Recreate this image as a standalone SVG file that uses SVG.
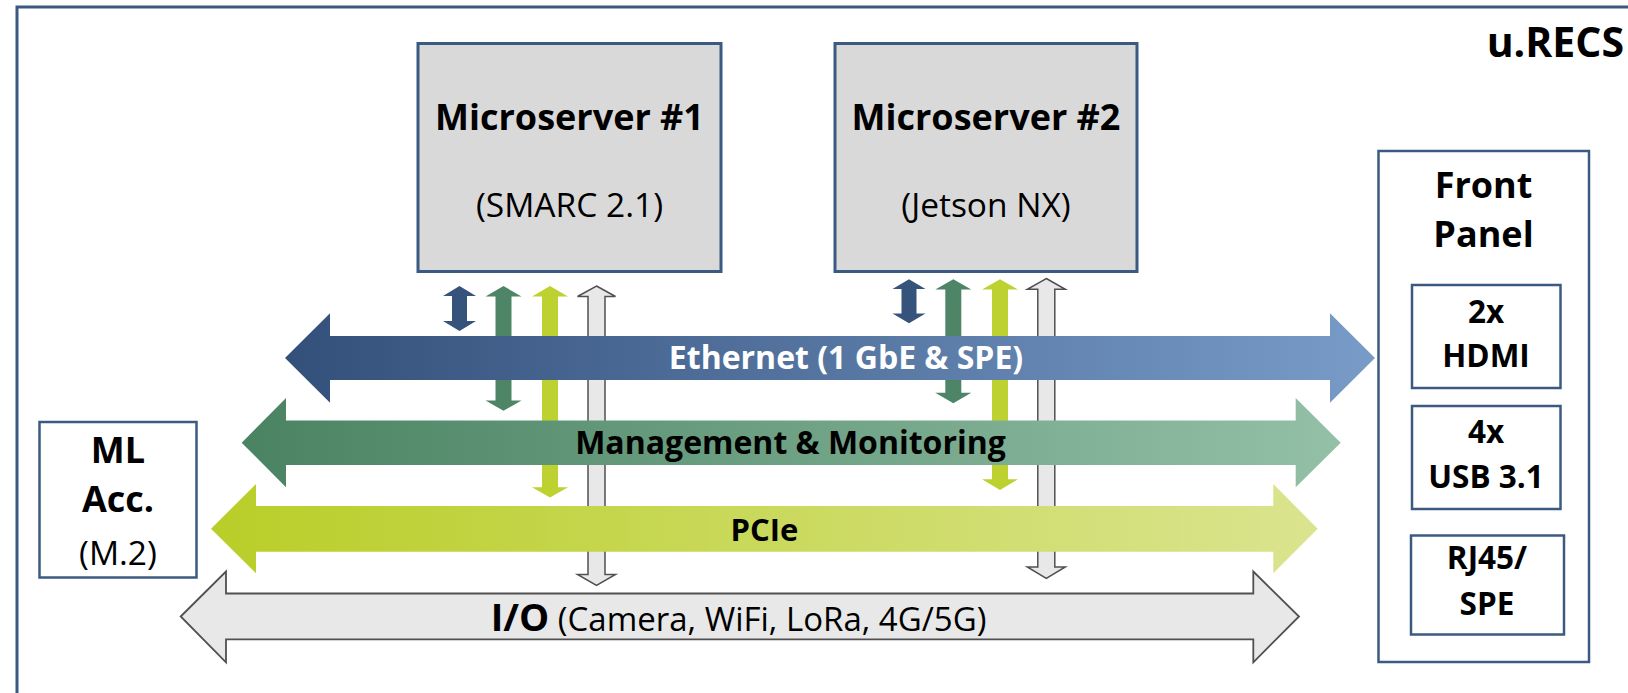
<svg xmlns="http://www.w3.org/2000/svg" width="1628" height="693" viewBox="0 0 1628 693">
  <defs>
    <linearGradient id="gEth" gradientUnits="userSpaceOnUse" x1="285" y1="0" x2="1375" y2="0">
      <stop offset="0" stop-color="#33507A"/>
      <stop offset="1" stop-color="#789BC8"/>
    </linearGradient>
    <linearGradient id="gMgmt" gradientUnits="userSpaceOnUse" x1="242" y1="0" x2="1341" y2="0">
      <stop offset="0" stop-color="#4A8362"/>
      <stop offset="1" stop-color="#93C0A7"/>
    </linearGradient>
    <linearGradient id="gPcie" gradientUnits="userSpaceOnUse" x1="211" y1="0" x2="1318" y2="0">
      <stop offset="0" stop-color="#B9CE28"/>
      <stop offset="1" stop-color="#DAE48F"/>
    </linearGradient>
    <style>
      .frame { fill: none; stroke: #3B5A82; stroke-width: 3; }
      .server { fill: #D9D9D9; stroke: #3B5A82; stroke-width: 3; }
      .box { fill: #FFFFFF; stroke: #3B5A82; stroke-width: 2.5; }
      .t { font-family: "Open Sans", "Liberation Sans", sans-serif; fill: #000000; text-anchor: middle; }
      .b { font-weight: 700; }
      .title { font-size: 36px; }
      .sub { font-size: 33.5px; }
      .port { font-size: 31.5px; }
      .bus { font-size: 32px; }
      .vBlue { fill: #36547B; }
      .vGreen { fill: #4E8566; }
      .vLime { fill: #BDD231; }
      .vGray { fill: #E8E8E8; stroke: #505050; stroke-width: 1.5; }
      .io { fill: #E8E8E8; stroke: #505050; stroke-width: 1.8; }
    </style>
  </defs>

  <rect width="1628" height="693" fill="#FFFFFF"/>

  <!-- enclosure -->
  <g id="urecs">
    <rect class="frame" x="17" y="7" width="1640" height="720"/>
    <text class="t b" x="1624" y="57" style="font-size:41px;text-anchor:end">u.RECS</text>
  </g>

  <!-- vertical links from the two microservers (drawn under the buses) -->
  <g id="connectors">
    <!-- Microserver #1 -->
    <polygon class="vBlue" points="459.5,286 476,296 467,296 467,321 476,321 459.5,331 443,321 452,321 452,296 443,296"/>
    <polygon class="vGreen" points="503.5,286 521.5,296.5 511.5,296.5 511.5,400.5 521.5,400.5 503.5,410.7 485.5,400.5 495.5,400.5 495.5,296.5 485.5,296.5"/>
    <polygon class="vLime" points="550,286 568,296.5 558,296.5 558,487.3 568,487.3 550,497.5 532,487.3 542,487.3 542,296.5 532,296.5"/>
    <polygon class="vGray" points="596.5,286 615.5,296.5 605,296.5 605,574.5 615.5,574.5 596.5,585.5 577.5,574.5 588,574.5 588,296.5 577.5,296.5"/>
    <!-- Microserver #2 -->
    <polygon class="vBlue" points="909,279.3 925.5,289 916.5,289 916.5,313.5 925.5,313.5 909,323.3 892.5,313.5 901.5,313.5 901.5,289 892.5,289"/>
    <polygon class="vGreen" points="953.3,279.3 971.3,289.5 961.3,289.5 961.3,392.7 971.3,392.7 953.3,403.3 935.3,392.7 945.3,392.7 945.3,289.5 935.3,289.5"/>
    <polygon class="vLime" points="1000,279.3 1018,289.5 1008,289.5 1008,479.3 1018,479.3 1000,490 982,479.3 992,479.3 992,289.5 982,289.5"/>
    <polygon class="vGray" points="1046.3,278.5 1065.3,289.3 1054.8,289.3 1054.8,567 1065.3,567 1046.3,578.3 1027.3,567 1037.8,567 1037.8,289.3 1027.3,289.3"/>

    <!-- buses -->
    <g id="bus-ethernet">
      <polygon fill="url(#gEth)" points="285,358 330,313.3 330,336 1330,336 1330,313.3 1375,358 1330,402.7 1330,380 330,380 330,402.7"/>
      <text class="t b bus" x="846" y="369.3" style="fill:#FFFFFF">Ethernet (1 GbE &amp; SPE)</text>
    </g>
    <g id="bus-management">
      <polygon fill="url(#gMgmt)" points="241.7,442.7 286,398 286,420.5 1295.7,420.5 1295.7,398 1340.7,442.7 1295.7,487.3 1295.7,465 286,465 286,487.3"/>
      <text class="t b bus" x="790.5" y="454">Management &amp; Monitoring</text>
    </g>
    <g id="bus-pcie">
      <polygon fill="url(#gPcie)" points="211,528.8 256,484 256,506 1273.3,506 1273.3,484 1317.7,528.8 1273.3,573.3 1273.3,551.7 256,551.7 256,573.3"/>
      <text class="t b bus" x="764.5" y="540.7" style="font-size:31px">PCIe</text>
    </g>
    <g id="bus-io">
      <polygon class="io" points="180.7,616.5 226,571.5 226,593.5 1253.3,593.5 1253.3,571.5 1299,616.5 1253.3,662.3 1253.3,639.3 226,639.3 226,662.3"/>
      <text class="t" x="490.7" y="630.7" style="text-anchor:start"><tspan class="b" style="font-size:38px">I/O</tspan><tspan style="font-size:33px"> (Camera, WiFi, LoRa, 4G/5G)</tspan></text>
    </g>
  </g>

  <!-- compute modules -->
  <g id="microserver-1">
    <rect class="server" x="418" y="43.5" width="303" height="228"/>
    <text class="t b title" x="569.5" y="129.5">Microserver #1</text>
    <text class="t sub" x="569.5" y="216.5">(SMARC 2.1)</text>
  </g>
  <g id="microserver-2">
    <rect class="server" x="835" y="43.5" width="302" height="228"/>
    <text class="t b title" x="986" y="129.5">Microserver #2</text>
    <text class="t sub" x="986" y="216.5">(Jetson NX)</text>
  </g>

  <!-- accelerator slot -->
  <g id="ml-acc">
    <rect class="box" x="39.5" y="422" width="157" height="155.5"/>
    <text class="t b title" x="118" y="462.7">ML</text>
    <text class="t b title" x="118" y="512">Acc.</text>
    <text class="t sub" x="118" y="565">(M.2)</text>
  </g>

  <!-- front panel with its ports -->
  <g id="front-panel">
    <rect class="box" x="1378.5" y="151" width="210.5" height="511"/>
    <text class="t b title" x="1483.5" y="198">Front</text>
    <text class="t b title" x="1483.5" y="247">Panel</text>
  </g>
  <g id="port-hdmi">
    <rect class="box" x="1412" y="285" width="148.5" height="103"/>
    <text class="t b port" x="1486" y="322.7">2x</text>
    <text class="t b port" x="1486" y="367.3">HDMI</text>
  </g>
  <g id="port-usb">
    <rect class="box" x="1412" y="406" width="148.5" height="103"/>
    <text class="t b port" x="1486" y="442.7">4x</text>
    <text class="t b port" x="1486" y="488.3">USB 3.1</text>
  </g>
  <g id="port-rj45">
    <rect class="box" x="1411" y="535.5" width="153" height="99"/>
    <text class="t b port" x="1487" y="569.3">RJ45/</text>
    <text class="t b port" x="1487" y="615">SPE</text>
  </g>
</svg>
